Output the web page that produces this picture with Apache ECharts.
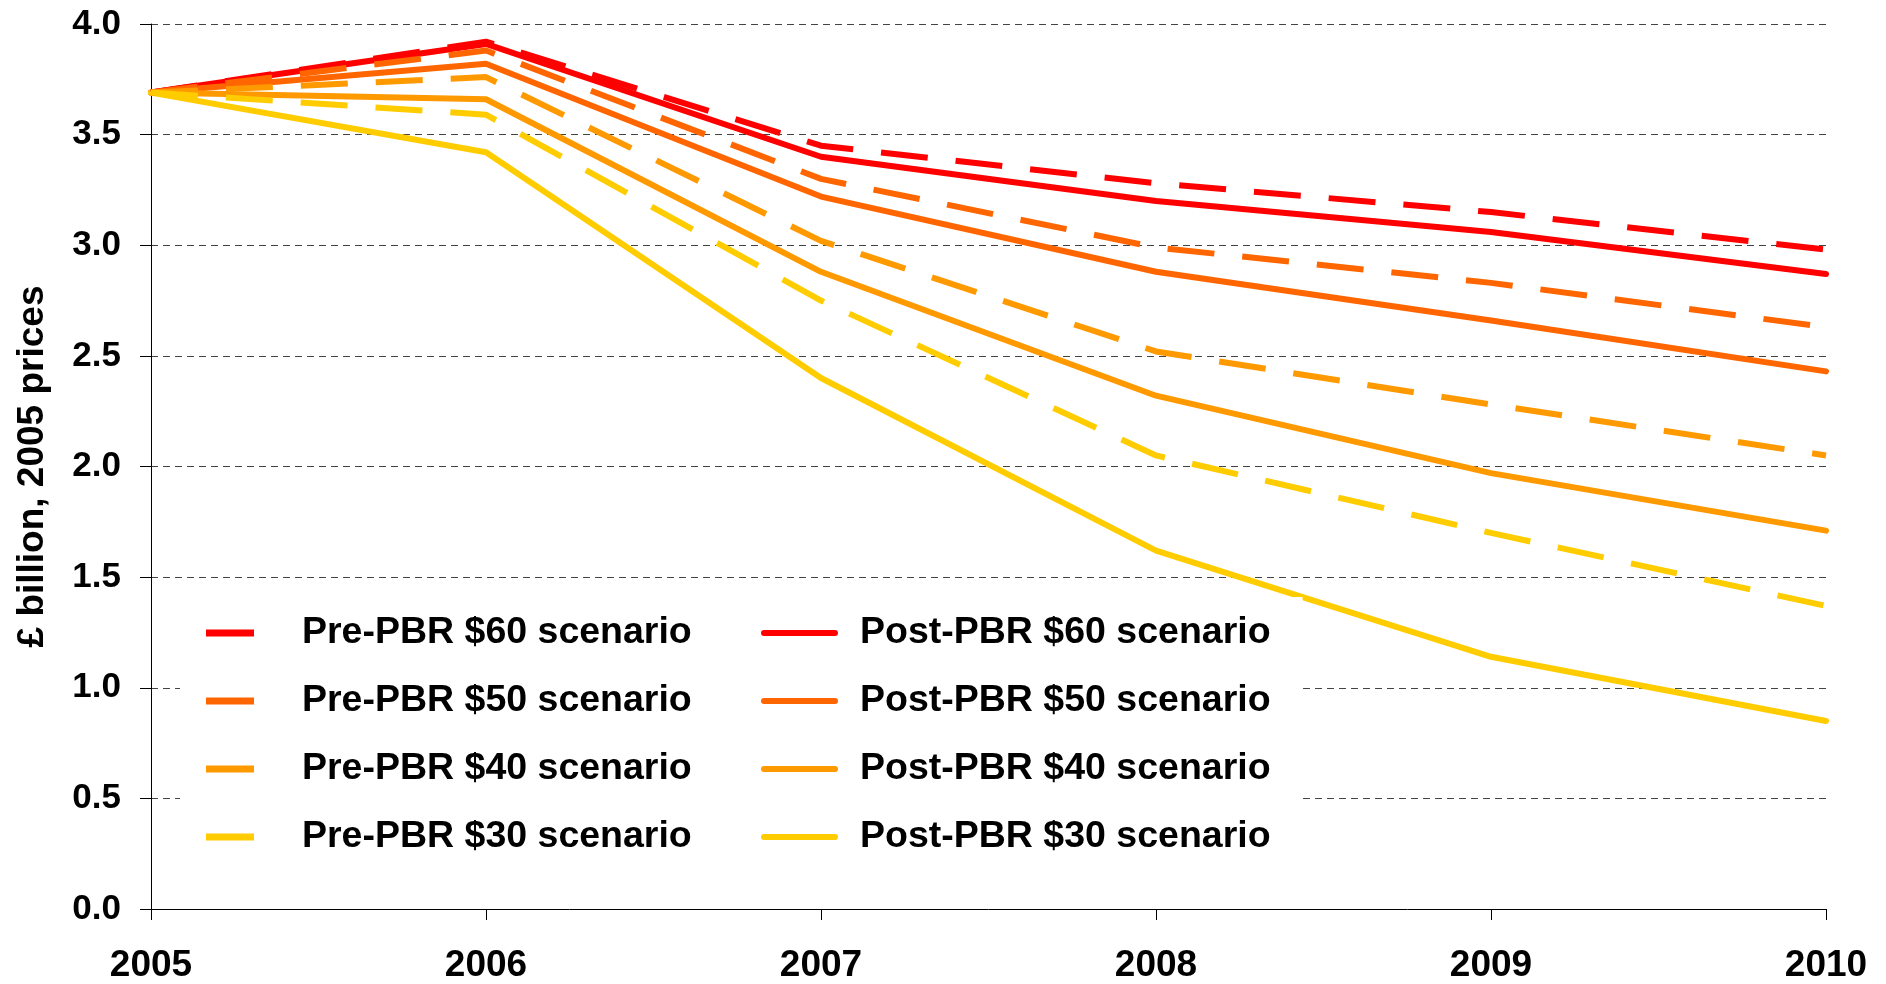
<!DOCTYPE html>
<html lang="en">
<head>
  <meta charset="UTF-8">
  <title>Scenario revenues, £ billion</title>
  <script src="https://cdn.jsdelivr.net/npm/echarts@6/dist/echarts.min.js"></script>
  <style>
    body { margin: 0; padding: 0; background: #fff; }
    #chart { width: 1886px; height: 984px; }
  </style>
</head>
<body>
<div id="chart"></div>
<script>
  // years on the x axis
  const years = ['2005', '2006', '2007', '2008', '2009', '2010'];

  // series names
  const preNames = ['Pre-PBR $60 scenario', 'Pre-PBR $50 scenario', 'Pre-PBR $40 scenario', 'Pre-PBR $30 scenario'];
  const postNames = ['Post-PBR $60 scenario', 'Post-PBR $50 scenario', 'Post-PBR $40 scenario', 'Post-PBR $30 scenario'];
  const colors = ['#FF0000', '#FF6600', '#FF9900', '#FFCC00'];

  // values (£ billion, 2005 prices)
  const pre60 = [3.69, 3.92, 3.45, 3.28, 3.15, 2.98];
  const pre50 = [3.69, 3.88, 3.30, 2.99, 2.83, 2.63];
  const pre40 = [3.69, 3.76, 3.02, 2.52, 2.28, 2.05];
  const pre30 = [3.69, 3.59, 2.75, 2.05, 1.70, 1.37];
  const post60 = [3.69, 3.91, 3.40, 3.20, 3.06, 2.87];
  const post50 = [3.69, 3.82, 3.22, 2.88, 2.66, 2.43];
  const post40 = [3.69, 3.66, 2.88, 2.32, 1.97, 1.71];
  const post30 = [3.69, 3.42, 2.40, 1.62, 1.14, 0.85];

  const preData = [pre60, pre50, pre40, pre30];
  const postData = [post60, post50, post40, post30];

  const font = 'Arial, "Liberation Sans", sans-serif';

  const series = [];
  // solid lines first, dashed drawn over them
  postData.forEach((d, i) => {
    series.push({
      name: postNames[i],
      type: 'line',
      data: d,
      symbol: 'none',
      color: colors[i],
      lineStyle: { color: colors[i], width: 6, cap: 'round', join: 'round' },
      z: 2
    });
  });
  preData.forEach((d, i) => {
    series.push({
      name: preNames[i],
      type: 'line',
      data: d,
      symbol: 'none',
      color: colors[i],
      lineStyle: { color: colors[i], width: 6, type: [47, 28] },
      z: 3
    });
  });

  const legendText = { fontFamily: font, fontWeight: 'bold', fontSize: 37.5, color: '#000', lineHeight: 40 };

  const chart = echarts.init(document.getElementById('chart'));
  chart.setOption({
    animation: false,
    backgroundColor: '#fff',
    grid: { left: 151, right: 60, top: 24, bottom: 74 },
    legend: [
      {
        // dashed series get a plain bar as key, like the original
        data: preNames.map(n => ({ name: n, icon: 'rect' })),
        orient: 'vertical',
        left: 180,
        top: 597,
        padding: [16, 60, 16, 26],
        backgroundColor: '#fff',
        itemWidth: 48,
        itemHeight: 7,
        itemGap: 28,
        itemStyle: { borderWidth: 0 },
        lineStyle: { width: 6, type: 'solid' },
        textStyle: Object.assign({ padding: [0, 0, 0, 43] }, legendText)
      },
      {
        data: postNames,
        orient: 'vertical',
        left: 725,
        top: 597,
        padding: [16, 32, 16, 36],
        backgroundColor: '#fff',
        itemWidth: 71,
        itemHeight: 7,
        itemGap: 28,
        lineStyle: { width: 6, cap: 'round' },
        textStyle: Object.assign({ padding: [0, 0, 0, 20] }, legendText)
      }
    ],
    xAxis: {
      type: 'category',
      data: years,
      boundaryGap: false,
      axisLine: { show: true, lineStyle: { color: '#000', width: 1 } },
      axisTick: { show: true, length: 11, lineStyle: { color: '#000' } },
      axisLabel: { fontFamily: font, fontWeight: 'bold', fontSize: 37, color: '#000', margin: 38 },
      splitLine: { show: false }
    },
    yAxis: {
      type: 'value',
      min: 0,
      max: 4,
      interval: 0.5,
      name: '£ billion, 2005 prices',
      nameLocation: 'middle',
      nameRotate: 90,
      nameGap: 100,
      nameTextStyle: { fontFamily: font, fontWeight: 'bold', fontSize: 37, color: '#000' },
      axisLine: { show: true, lineStyle: { color: '#000', width: 1 } },
      axisTick: { show: true, length: 11, lineStyle: { color: '#000' } },
      axisLabel: {
        fontFamily: font, fontWeight: 'bold', fontSize: 35, color: '#000', margin: 30,
        formatter: v => v.toFixed(1)
      },
      splitLine: { show: true, lineStyle: { color: '#444', width: 1, type: [7, 5] } }
    },
    series: series
  });
</script>
</body>
</html>
